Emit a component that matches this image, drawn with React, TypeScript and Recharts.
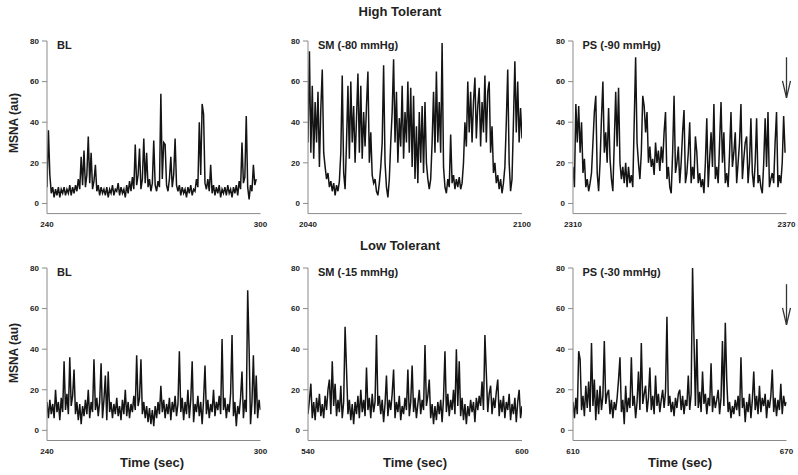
import React from "react";
import { LineChart, Line, XAxis, YAxis, ReferenceDot } from "recharts";

// sampling step of the traces, seconds
const STEP = 0.4;

const yTicks = [0, 20, 40, 60, 80];

// High tolerant
const highBL = [
  8, 36, 14, 5, 8, 3, 7, 4, 8, 3, 7, 5, 8, 4, 7, 5, 9, 4, 8, 5,
  9, 6, 12, 7, 23, 9, 26, 8, 14, 33, 10, 25, 7, 11, 19, 6, 9, 4, 8, 5,
  7, 4, 8, 3, 7, 5, 9, 4, 7, 6, 10, 4, 8, 5, 7, 3, 9, 5, 11, 6,
  13, 7, 29, 9, 14, 27, 7, 12, 32, 10, 25, 8, 12, 6, 10, 31, 9, 6, 11, 8,
  54, 12, 30, 29, 9, 6, 12, 23, 8, 14, 32, 9, 6, 9, 4, 8, 5, 7, 3, 8,
  5, 9, 4, 7, 6, 12, 8, 40, 14, 49, 44, 10, 7, 12, 6, 19, 5, 9, 4, 8,
  5, 9, 3, 7, 5, 8, 4, 9, 5, 7, 3, 8, 5, 9, 4, 11, 7, 30, 10, 13,
  43, 8, 2, 9, 6, 19, 9, 12,
];
const highSM = [
  30, 75, 25, 58, 22, 50, 30, 55, 18, 47, 66, 25, 18, 12, 15, 8, 11, 6, 10, 4,
  9, 6, 11, 25, 63, 15, 7, 30, 58, 22, 60, 30, 48, 20, 42, 64, 25, 58, 22, 45,
  28, 48, 65, 20, 35, 14, 10, 12, 6, 4, 10, 18, 30, 68, 20, 8, 3, 12, 30, 45,
  71, 30, 55, 20, 42, 28, 58, 22, 45, 30, 60, 25, 57, 18, 53, 12, 38, 10, 45, 20,
  48, 15, 50, 20, 12, 7, 12, 30, 55, 25, 65, 30, 50, 25, 79, 18, 8, 5, 12, 8,
  34, 10, 14, 7, 12, 8, 13, 7, 10, 20, 40, 28, 60, 35, 55, 30, 50, 62, 32, 48,
  57, 28, 50, 35, 63, 30, 55, 60, 25, 38, 15, 20, 10, 14, 7, 12, 5, 10, 18, 40,
  66, 20, 6, 12, 40, 70, 35, 60, 30, 47, 32,
];
const highPS = [
  18, 8, 49, 30, 48, 25, 40, 15, 22, 8, 12, 6, 10, 15, 30, 45, 53, 15, 6, 20,
  42, 60, 25, 35, 20, 47, 22, 12, 6, 30, 55, 28, 57, 20, 12, 18, 10, 20, 8, 18,
  10, 14, 8, 40, 72, 30, 20, 12, 25, 53, 48, 35, 45, 20, 28, 18, 22, 14, 30, 20,
  26, 16, 28, 20, 35, 45, 12, 18, 8, 5, 25, 53, 15, 20, 28, 10, 20, 35, 46, 10,
  15, 25, 40, 10, 18, 12, 33, 25, 10, 15, 8, 12, 5, 20, 42, 8, 22, 35, 18, 49,
  12, 18, 10, 30, 50, 20, 35, 10, 15, 8, 25, 45, 18, 25, 35, 10, 20, 30, 49, 12,
  22, 30, 33, 10, 20, 42, 15, 8, 20, 42, 10, 14, 8, 5, 20, 42, 18, 45, 8, 12,
  15, 10, 30, 45, 8, 14, 10, 20, 43, 25,
];

// Low tolerant
const lowBL = [
  14, 6, 15, 8, 13, 6, 20, 9, 14, 5, 16, 9, 34, 10, 18, 8, 36, 12, 17, 30,
  8, 14, 5, 13, 3, 12, 7, 15, 8, 20, 6, 14, 9, 35, 10, 16, 7, 14, 33, 6,
  15, 27, 5, 29, 9, 14, 6, 13, 8, 16, 7, 12, 5, 15, 8, 20, 7, 14, 6, 13,
  9, 17, 10, 37, 12, 16, 35, 8, 14, 6, 12, 4, 11, 3, 10, 2, 12, 6, 14, 8,
  22, 9, 15, 6, 13, 8, 16, 5, 14, 9, 17, 7, 13, 39, 9, 16, 5, 14, 8, 20,
  6, 15, 34, 4, 13, 9, 17, 7, 14, 3, 15, 32, 8, 15, 6, 13, 9, 20, 7, 14,
  10, 17, 8, 45, 10, 16, 6, 13, 9, 18, 47, 7, 14, 2, 12, 8, 16, 29, 6, 15,
  9, 69, 40, 3, 14, 37, 8, 27, 6, 15, 10,
];
const lowSM = [
  8, 15, 23, 6, 14, 5, 16, 9, 18, 7, 13, 6, 17, 10, 20, 25, 8, 34, 12, 23,
  7, 15, 9, 22, 6, 14, 51, 30, 8, 15, 5, 13, 3, 14, 8, 17, 6, 20, 9, 15,
  7, 31, 10, 16, 6, 18, 9, 14, 47, 12, 17, 8, 15, 4, 13, 27, 7, 15, 10, 18,
  30, 6, 14, 9, 17, 5, 12, 8, 16, 10, 30, 7, 14, 32, 9, 16, 6, 13, 20, 8,
  15, 10, 42, 12, 17, 25, 6, 13, 3, 12, 5, 14, 8, 15, 4, 16, 39, 9, 18, 7,
  15, 10, 20, 8, 40, 12, 34, 7, 16, 5, 13, 3, 12, 7, 15, 9, 14, 4, 16, 10,
  17, 12, 24, 10, 47, 28, 9, 18, 22, 8, 16, 11, 19, 25, 7, 15, 9, 17, 6, 14,
  10, 18, 5, 13, 8, 16, 4, 14, 20, 6, 12,
];
const lowPS = [
  14, 6, 16, 8, 39, 35, 10, 17, 7, 22, 11, 24, 9, 43, 12, 25, 5, 20, 8, 22,
  10, 17, 44, 13, 18, 20, 8, 15, 6, 14, 10, 16, 25, 36, 9, 15, 3, 22, 9, 16,
  11, 36, 12, 17, 6, 14, 29, 10, 43, 13, 18, 22, 9, 16, 31, 10, 17, 8, 27, 12,
  18, 9, 15, 20, 11, 19, 56, 12, 17, 9, 14, 7, 16, 11, 18, 20, 10, 17, 8, 15,
  12, 27, 10, 18, 80, 45, 12, 45, 11, 19, 9, 29, 13, 18, 8, 16, 12, 33, 9, 17,
  11, 15, 20, 8, 16, 44, 12, 53, 25, 9, 14, 6, 12, 8, 15, 10, 17, 7, 36, 11,
  16, 4, 14, 9, 18, 6, 15, 29, 10, 17, 8, 22, 9, 16, 12, 18, 6, 15, 11, 17,
  30, 9, 16, 7, 15, 10, 23, 8, 17, 12, 14,
];

const ARROW_TOP = 72;
const ARROW_TIP = 52;

const cols = [
  { left: 47, right: 260.5 },
  { left: 308, right: 522 },
  { left: 572.5, right: 786 },
];
const rows = [
  { top: 40.7, bottom: 213.3 },
  { top: 268.3, bottom: 440.8 },
];

const panels = [
  { row: 0, col: 0, values: highBL, start: 240, label: "BL", arrow: false },
  { row: 0, col: 1, values: highSM, start: 2040, label: "SM (-80 mmHg)", arrow: false },
  { row: 0, col: 2, values: highPS, start: 2310, label: "PS (-90 mmHg)", arrow: true },
  { row: 1, col: 0, values: lowBL, start: 240, label: "BL", arrow: false },
  { row: 1, col: 1, values: lowSM, start: 540, label: "SM (-15 mmHg)", arrow: false },
  { row: 1, col: 2, values: lowPS, start: 610, label: "PS (-30 mmHg)", arrow: true },
];

const FONT = "'Liberation Sans', Arial, Helvetica, sans-serif";
const AXIS = "#8a8a8a";
const PX_PER_UNIT = 2.03;

const Arrow = (props: any) => {
  const { cx, cy } = props;
  if (cx == null || cy == null) return null;
  const len = (ARROW_TOP - ARROW_TIP) * PX_PER_UNIT;
  return (
    <g stroke="#333" strokeWidth={1.3} fill="none">
      <line x1={cx} y1={cy - len} x2={cx} y2={cy} />
      <polyline points={`${cx - 4},${cy - 17} ${cx},${cy} ${cx + 4},${cy - 17}`} />
    </g>
  );
};

function Panel({ p }: { p: (typeof panels)[number] }) {
  const c = cols[p.col];
  const r = rows[p.row];
  const yW = 40;
  const mTop = 10;
  const mRight = 10;
  const xH = 22;
  const w = c.right - c.left + yW + mRight;
  const h = r.bottom - r.top + mTop + xH;
  const data = p.values.map((v, i) => ({ t: +(p.start + i * STEP).toFixed(2), v }));
  const end = p.start + 60;
  return (
    <div style={{ position: "absolute", left: c.left - yW, top: r.top - mTop }}>
      <LineChart width={w} height={h} data={data} margin={{ top: mTop, right: mRight, left: 0, bottom: 0 }}>
        <XAxis
          type="number"
          dataKey="t"
          domain={[p.start, end]}
          ticks={[p.start, end]}
          interval={0}
          tickLine={false}
          stroke={AXIS}
          height={xH}
          tick={{ fontSize: 8, fontWeight: 700, fill: "#222", fontFamily: FONT }}
          allowDataOverflow
        />
        <YAxis
          domain={[-5, 80]}
          ticks={yTicks}
          width={yW}
          stroke={AXIS}
          tickSize={5}
          tickMargin={3}
          tick={{ fontSize: 8, fontWeight: 700, fill: "#222", fontFamily: FONT }}
          allowDataOverflow
        />
        <Line
          type="linear"
          dataKey="v"
          stroke="#141414"
          strokeWidth={1.5}
          strokeLinejoin="miter"
          dot={false}
          isAnimationActive={false}
        />
        {p.arrow && (
          <ReferenceDot x={end} y={ARROW_TIP} ifOverflow="visible" shape={<Arrow />} />
        )}
      </LineChart>
      <div
        style={{
          position: "absolute",
          left: yW + 10,
          top: mTop - 2,
          fontFamily: FONT,
          fontWeight: 700,
          fontSize: 11,
          color: "#222",
          whiteSpace: "nowrap",
        }}
      >
        {p.label}
      </div>
    </div>
  );
}

const textBase: React.CSSProperties = {
  position: "absolute",
  fontFamily: FONT,
  fontWeight: 700,
  color: "#222",
  whiteSpace: "nowrap",
  transform: "translate(-50%, -50%)",
};

export default function App() {
  return (
    <div style={{ position: "absolute", left: 0, top: 0, width: 798, height: 475, background: "#fff", overflow: "hidden" }}>
      <div style={{ ...textBase, left: 400, top: 11, fontSize: 13 }}>High Tolerant</div>
      <div style={{ ...textBase, left: 400, top: 245, fontSize: 13 }}>Low Tolerant</div>
      {[123, 353].map((y) => (
        <div key={y} style={{ ...textBase, left: 14, top: y, fontSize: 12, transform: "translate(-50%, -50%) rotate(-90deg)" }}>
          MSNA (au)
        </div>
      ))}
      {[152, 415, 680].map((x) => (
        <div key={x} style={{ ...textBase, left: x, top: 462, fontSize: 13 }}>
          Time (sec)
        </div>
      ))}
      {panels.map((p, i) => (
        <Panel key={i} p={p} />
      ))}
    </div>
  );
}
